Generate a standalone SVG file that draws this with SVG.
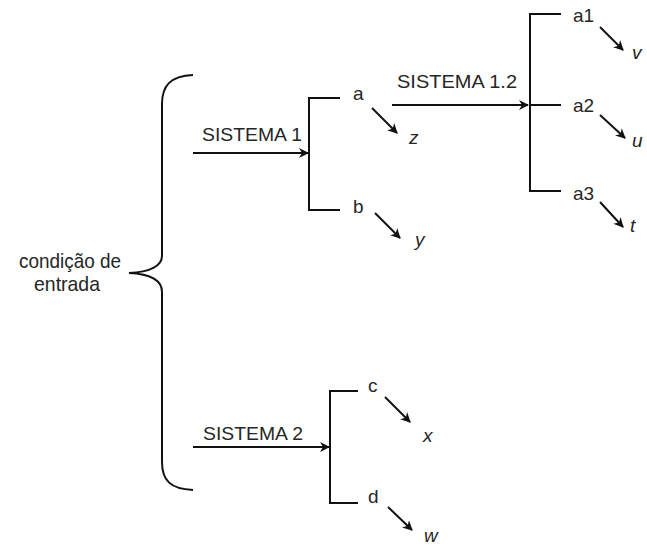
<svg xmlns="http://www.w3.org/2000/svg" width="647" height="547" viewBox="0 0 647 547">
<style>
text{font-family:"Liberation Sans",Arial,sans-serif;font-size:19px;fill:#262626}
.it{font-style:italic}
.nar{font-size:21px}
.ln{fill:none;stroke:#111;stroke-width:2}
</style>
<defs>
<marker id="ah" markerWidth="10" markerHeight="10" viewBox="0 0 10 10" refX="9" refY="5" orient="auto" markerUnits="userSpaceOnUse">
<path d="M0,0 L10,5 L0,10 L3,5 Z" fill="#111"/>
</marker>
</defs>
<rect width="647" height="547" fill="#fff"/>
<g id="entrada">
<path class="ln" d="M193,75 C170,76 162,86 162,104 L162,256 C162,266 150,272 129,273 C150,274 162,280 162,292 L162,462 C162,480 170,489 193,490"/>
<text class="nar" x="70" y="268" text-anchor="middle" textLength="102" lengthAdjust="spacingAndGlyphs">condição de</text>
<text class="nar" x="67" y="291" text-anchor="middle" textLength="66" lengthAdjust="spacingAndGlyphs">entrada</text>
</g>
<g id="connectors">
<line class="ln" x1="193" y1="153" x2="308" y2="153" marker-end="url(#ah)"/>
<path class="ln" d="M340,98 H309 V210 H340"/>
<line class="ln" x1="392" y1="105" x2="528" y2="105" marker-end="url(#ah)"/>
<path class="ln" d="M561,14 H530 V191 H561 M530,105 H561"/>
<line class="ln" x1="193" y1="447" x2="329" y2="447" marker-end="url(#ah)"/>
<path class="ln" d="M358,391 H330 V503 H358"/>
<line class="ln" x1="372" y1="108" x2="397" y2="133" marker-end="url(#ah)"/>
<line class="ln" x1="375" y1="213" x2="400" y2="238" marker-end="url(#ah)"/>
<line class="ln" x1="600" y1="27" x2="623" y2="50" marker-end="url(#ah)"/>
<line class="ln" x1="600" y1="115" x2="625" y2="138" marker-end="url(#ah)"/>
<line class="ln" x1="600" y1="202" x2="623" y2="227" marker-end="url(#ah)"/>
<line class="ln" x1="385" y1="397" x2="410" y2="422" marker-end="url(#ah)"/>
<line class="ln" x1="388" y1="507" x2="412" y2="530" marker-end="url(#ah)"/>
</g>
<g id="sistema1"><text x="202" y="141" textLength="100" lengthAdjust="spacingAndGlyphs">SISTEMA 1</text></g>
<g id="sistema12"><text x="397" y="88" textLength="120" lengthAdjust="spacingAndGlyphs">SISTEMA 1.2</text></g>
<g id="sistema2"><text x="203" y="440" textLength="100" lengthAdjust="spacingAndGlyphs">SISTEMA 2</text></g>
<g id="node-a"><text x="353" y="100">a</text></g>
<g id="node-z"><text class="it" x="409" y="144">z</text></g>
<g id="node-b"><text x="353" y="213">b</text></g>
<g id="node-y"><text class="it" x="415" y="246">y</text></g>
<g id="node-a1"><text x="573" y="22">a1</text></g>
<g id="node-v"><text class="it" x="632" y="59">v</text></g>
<g id="node-a2"><text x="573" y="112">a2</text></g>
<g id="node-u"><text class="it" x="632" y="147">u</text></g>
<g id="node-a3"><text x="573" y="200">a3</text></g>
<g id="node-t"><text class="it" x="630" y="232">t</text></g>
<g id="node-c"><text x="368" y="392">c</text></g>
<g id="node-x"><text class="it" x="423" y="442">x</text></g>
<g id="node-d"><text x="368" y="503">d</text></g>
<g id="node-w"><text class="it" x="424" y="542">w</text></g>
</svg>
